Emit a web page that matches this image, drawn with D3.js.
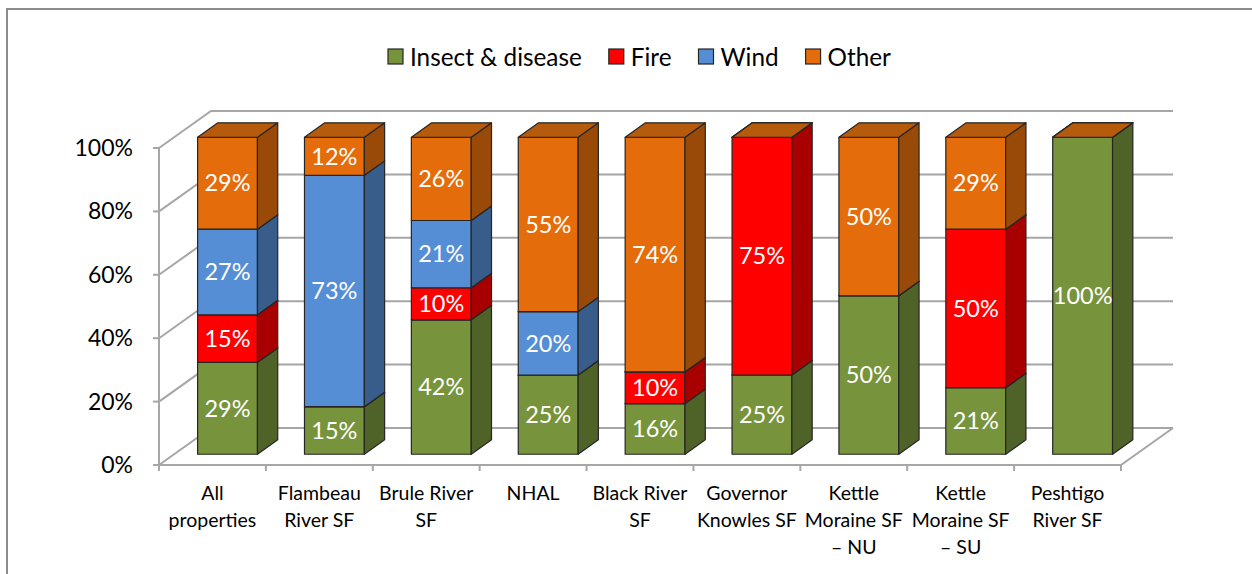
<!DOCTYPE html>
<html>
<head>
<meta charset="utf-8">
<script src="https://cdn.jsdelivr.net/npm/d3@7"></script>
<style>
  body { margin: 0; background: #fff; }
  svg { display: block; }
  text { font-family: Lato, "Open Sans", sans-serif; }
</style>
</head>
<body>
<svg id="chart" width="1252" height="574"></svg>
<script>
const categories = [
  'All properties', 'Flambeau River SF', 'Brule River SF', 'NHAL', 'Black River SF',
  'Governor Knowles SF', 'Kettle Moraine SF – NU', 'Kettle Moraine SF – SU', 'Peshtigo River SF',
];
const categoryLines = [
  ['All', 'properties'], ['Flambeau', 'River SF'], ['Brule River', 'SF'], ['NHAL'], ['Black River', 'SF'],
  ['Governor', 'Knowles SF'], ['Kettle', 'Moraine SF', '– NU'], ['Kettle', 'Moraine SF', '– SU'], ['Peshtigo', 'River SF'],
];
const seriesNames = ['Insect & disease', 'Fire', 'Wind', 'Other'];
const insectDisease = [29, 15, 42, 25, 16, 25, 50, 21, 100];
const fire = [15, 0, 10, 0, 10, 75, 0, 50, 0];
const wind = [27, 73, 21, 20, 0, 0, 0, 0, 0];
const other = [29, 12, 26, 55, 74, 0, 50, 29, 0];
const yTicks = [0, 0.2, 0.4, 0.6, 0.8, 1];

const frontColor = ['#77933c', '#ff0000', '#558ed5', '#e46c0a'];
const sideColor = ['#4f6228', '#a80000', '#385d8a', '#9a4a08'];
const topColor = ['#5f7630', '#cc0000', '#4472b0', '#b65a0c'];

const svg = d3.select('#chart');
const width = 1252;
const height = 574;

// 3d-ish layout: front plane plus an oblique depth offset
const left = 159;
const right = 1121;
const DX = 52;
const DY = -37;
const f1 = 0.29;
const f2 = 0.68;

const rows = categories.map((c, i) => ({
  cat: c,
  'Insect & disease': insectDisease[i],
  Fire: fire[i],
  Wind: wind[i],
  Other: other[i],
}));
const stacked = d3.stack().keys(seriesNames).offset(d3.stackOffsetExpand)(rows);

const xCat = d3.scaleBand().domain(categories).range([left, right]);
const x = d3.scaleBand().domain(categories).range([left, right]).paddingInner(0.44).paddingOuter(0.22);
const y = d3.scaleLinear().domain([0, 1]).range([465, 148]);

svg.append('path')
  .attr('d', `M7,${height} V9 H${width}`)
  .attr('fill', 'none')
  .attr('stroke', '#8c8c8c')
  .attr('stroke-width', 2);

// walls
const grid = svg.append('g').attr('stroke', '#a6a6a6').attr('stroke-width', 2).attr('fill', 'none');
yTicks.forEach((t) => {
  grid.append('path').attr('d', `M${left},${y(t)} L${left + DX},${y(t) + DY} H${right + DX}`);
  grid.append('line').attr('x1', left - 6).attr('x2', left).attr('y1', y(t)).attr('y2', y(t));
});
grid.append('line').attr('x1', left).attr('x2', left).attr('y1', y(0)).attr('y2', y(1));
grid.append('path').attr('d', `M${left},${y(0)} H${right} L${right + DX},${y(0) + DY}`);
categories.concat([null]).forEach((c) => {
  const xx = c === null ? right : xCat(c);
  grid.append('line').attr('x1', xx).attr('x2', xx).attr('y1', y(0)).attr('y2', y(0) + 6);
});

svg.append('g')
  .selectAll('text')
  .data(yTicks)
  .join('text')
  .attr('x', 133)
  .attr('y', (d) => y(d))
  .attr('dy', '0.35em')
  .attr('text-anchor', 'end')
  .attr('font-size', 23)
  .attr('fill', '#000')
  .text((d) => `${Math.round(d * 100)}%`);

// bars
const bars = svg.append('g').attr('stroke', '#262626').attr('stroke-width', 1.2).attr('stroke-linejoin', 'round');
const ddx = (f2 - f1) * DX;
const ddy = (f2 - f1) * DY;
const bw = x.bandwidth();
categories.forEach((c, i) => {
  stacked.forEach((s, k) => {
    const [v0, v1] = s[i];
    const x0 = x(c) + f1 * DX;
    const x1 = x0 + bw;
    const yb = y(v0) + f1 * DY;
    const yt = y(v1) + f1 * DY;
    if (v1 > v0) {
      bars.append('rect').attr('x', x0).attr('y', yt).attr('width', bw).attr('height', yb - yt)
        .attr('fill', frontColor[k]);
      bars.append('path')
        .attr('d', `M${x1},${yb} V${yt} L${x1 + ddx},${yt + ddy} V${yb + ddy} Z`)
        .attr('fill', sideColor[k]);
    }
    bars.append('path')
      .attr('d', `M${x0},${yt} H${x1} L${x1 + ddx},${yt + ddy} H${x0 + ddx} Z`)
      .attr('fill', topColor[k]);
  });
});

// value labels
const labels = svg.append('g').attr('fill', '#fff').attr('font-size', 23.5).attr('text-anchor', 'middle');
const values = [insectDisease, fire, wind, other];
categories.forEach((c, i) => {
  stacked.forEach((s, k) => {
    const v = values[k][i];
    if (!v) return;
    const [v0, v1] = s[i];
    labels.append('text')
      .attr('x', x(c) + f1 * DX + bw / 2)
      .attr('y', (y(v0) + y(v1)) / 2 + f1 * DY)
      .attr('dy', '0.35em')
      .text(`${v}%`);
  });
});

// category labels
const catText = svg.append('g').attr('font-size', 19.5).attr('fill', '#000').attr('text-anchor', 'middle');
categories.forEach((c, i) => {
  const t = catText.append('text').attr('x', xCat(c) + xCat.bandwidth() / 2).attr('y', 500);
  categoryLines[i].forEach((line, j) => {
    t.append('tspan').attr('x', xCat(c) + xCat.bandwidth() / 2).attr('dy', j === 0 ? 0 : 27).text(line);
  });
});

// legend
const legend = svg.append('g').attr('font-size', 24.3);
let lx = 388;
seriesNames.forEach((name, k) => {
  legend.append('rect').attr('x', lx).attr('y', 49).attr('width', 15).attr('height', 15)
    .attr('fill', frontColor[k]).attr('stroke', '#262626').attr('stroke-width', 1.2);
  const t = legend.append('text').attr('x', lx + 22).attr('y', 57).attr('dy', '0.35em').attr('fill', '#000').text(name);
  lx += 22 + t.node().getComputedTextLength() + 27;
});
</script>
</body>
</html>
